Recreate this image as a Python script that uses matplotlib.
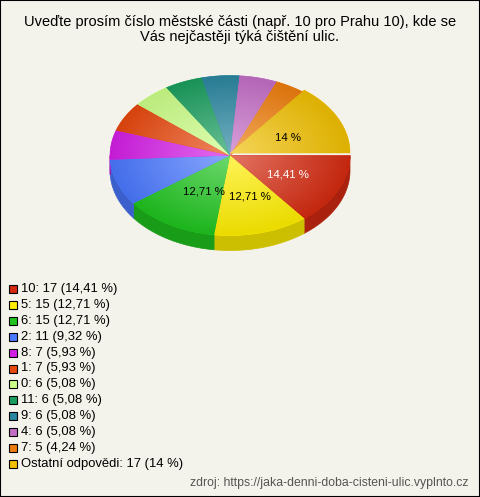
import numpy as np
import matplotlib
matplotlib.use("Agg")
import matplotlib.pyplot as plt
from matplotlib.patches import Polygon, Rectangle
from matplotlib.colors import to_rgb

# survey answers (district number -> count)
categories = ["10", "5", "6", "2", "8", "1", "0", "11", "9", "4", "7", "Ostatní odpovědi"]
counts = [17, 15, 15, 11, 7, 7, 6, 6, 6, 6, 5, 17]
percents = [14.41, 12.71, 12.71, 9.32, 5.93, 5.93, 5.08, 5.08, 5.08, 5.08, 4.24, 14]

colors = ["#d42a10", "#ffee00", "#1fc41f", "#4a78ff", "#d41ee6", "#e8480e",
          "#ccff88", "#1a9e5e", "#2a86a0", "#c46ec6", "#ee7d0c", "#f0bf00"]

title = "Uveďte prosím číslo městské části (např. 10 pro Prahu 10), kde se\nVás nejčastěji týká čištění ulic."
source = "zdroj: https://jaka-denni-doba-cisteni-ulic.vyplnto.cz"

bg = "#f4f3eb"
plt.rcParams["font.family"] = ["Liberation Sans", "DejaVu Sans"]

fig = plt.figure(figsize=(4.8, 4.97), dpi=100, facecolor=bg)
ax = fig.add_axes([0, 0, 1, 1])
ax.set_xlim(0, 480)
ax.set_ylim(497, 0)
ax.axis("off")
fig.patches.append(Rectangle((0, 0), 1, 1, transform=fig.transFigure,
                             fill=False, edgecolor="black", linewidth=1.5))

ax.text(240, 29.5, title, ha="center", va="center", fontsize=10.5, linespacing=1.15)

# pie geometry (pixels, y down)
cx, cy, a, b, depth = 230, 155.5, 120, 80, 15
lift = [0] * 11 + [2.5]   # the "other" slice is pulled up a little

frac = np.array(counts) / sum(counts)
edges = np.concatenate([[0], np.cumsum(frac) * 360])


def arc(t0, t1, oy=0, n=80):
    t = np.radians(np.linspace(t0, t1, n))
    return np.column_stack([cx + a * np.cos(t), cy + oy + b * np.sin(t)])


# side walls (front half only)
for i, c in enumerate(colors):
    t0, t1 = max(edges[i], 0), min(edges[i + 1], 180)
    if t1 <= t0:
        continue
    top = arc(t0, t1, -lift[i])
    bot = arc(t1, t0, -lift[i] + depth)
    side = np.array(to_rgb(c)) * 0.8
    ax.add_patch(Polygon(np.vstack([top, bot]), closed=True, facecolor=side,
                         edgecolor=side, linewidth=0.5))

# top faces with radial shading
xx, yy = np.meshgrid(np.arange(cx - a - 8, cx + a + 8, 0.5),
                     np.arange(cy - b - 8, cy + b + 8, 0.5))
for i, c in enumerate(colors):
    oy = -lift[i]
    pts = np.vstack([[cx, cy + oy], arc(edges[i], edges[i + 1], oy)])
    base = np.array(to_rgb(c))
    poly = Polygon(pts, closed=True, facecolor=base, edgecolor=base, linewidth=0.4)
    ax.add_patch(poly)
    r = np.clip(np.hypot((xx - cx) / a, (yy - cy - oy) / b), 0, 1)[..., None]
    light = base + (1 - base) * 0.35
    dark = base * 0.92
    img = light * (1 - r) + dark * r
    im = ax.imshow(img, extent=(xx.min(), xx.max(), yy.max(), yy.min()),
                   origin="upper", interpolation="bilinear", zorder=2)
    im.set_clip_path(poly)

# percentage labels on big slices
for i, p in enumerate(percents):
    if p < 10:
        continue
    mid = np.radians((edges[i] + edges[i + 1]) / 2)
    lx = cx + 0.5 * a * np.cos(mid) + 4
    ly = cy - lift[i] + 0.5 * b * np.sin(mid) + 2
    ax.text(lx, ly, f"{p:g} %".replace(".", ","), ha="center", va="center",
            fontsize=8.2, color="white" if i == 0 else "black", zorder=5)

# legend
for i, (cat, n, p) in enumerate(zip(categories, counts, percents)):
    y = 289 + i * 15.9
    ax.add_patch(Rectangle((9, y - 4), 8, 8, facecolor=colors[i],
                           edgecolor="black", linewidth=0.8))
    ax.text(21, y, f"{cat}: {n} ({p:g} %)".replace(".", ","), ha="left",
            va="center", fontsize=9.4)

ax.text(469, 483, source, ha="right", va="center", fontsize=8.8, color="#555555")

fig.savefig("out.png", dpi=100, facecolor=bg)
